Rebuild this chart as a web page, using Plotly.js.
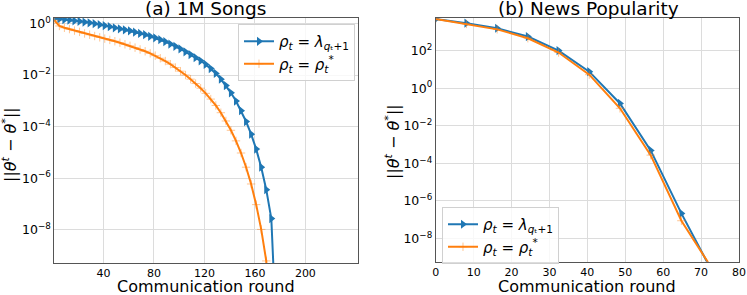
<!DOCTYPE html>
<html>
<head>
<meta charset="utf-8">
<script src="https://cdn.plot.ly/plotly-3.0.1.min.js"></script>
<style>html,body{margin:0;padding:0;background:#fff;}#chart{width:747px;height:295px;}</style>
</head>
<body>
<div id="chart"></div>
<script>
// ---- (a) 1M Songs ----
const songsRoundsBlue = [1,5,9,13,17,21,25,29,33,37,41,45,49,53,57,61,65,69,73,77,81,85,89,93,97,101,105,109,113,117,121,125,129,133,137,141,145,149,153,157,161,165,169,173,177];
const songsBlue = [1.55,1.48,1.41,1.35,1.26,1.20,1.12,1.05,0.977,0.891,0.813,0.741,0.676,0.617,0.562,0.513,0.457,0.407,0.363,0.316,0.275,0.234,0.195,0.158,0.129,0.102,0.0794,0.0617,0.0468,0.0355,0.0257,0.0178,0.0115,6.92e-3,3.89e-3,2.04e-3,9.77e-4,4.17e-4,1.58e-4,5.13e-5,1.35e-5,2.69e-6,3.63e-7,2.75e-8,1e-12];
const songsRoundsOrange = [1,5,9,13,17,21,25,29,33,37,41,45,49,53,57,61,65,69,73,77,81,85,89,93,97,101,105,109,113,117,121,125,129,133,137,141,145,149,153,157,161,165,169,173];
const songsOrange = [1.32,0.794,0.676,0.603,0.525,0.468,0.407,0.363,0.324,0.288,0.257,0.229,0.204,0.178,0.155,0.135,0.115,0.0977,0.0832,0.0692,0.0562,0.0447,0.0347,0.0263,0.0195,0.0141,0.0100,6.92e-3,4.68e-3,3.09e-3,1.95e-3,1.17e-3,6.61e-4,3.47e-4,1.66e-4,7.24e-5,2.82e-5,9.55e-6,2.69e-6,6.03e-7,9.55e-8,1.05e-8,6.31e-10,1e-13];

// ---- (b) News Popularity ----
const newsRounds = [0,8.1,16.2,24.3,32.4,40.5,48.6,56.7,64.8,72.9];
const newsBlue = [4790,2880,1550,562,100,7.59,0.155,4.90e-4,2.19e-7,1.78e-10];
const newsOrange = [4790,2630,1350,457,79.4,5.25,0.0851,2.75e-4,8.91e-8,2.51e-10];

// ---- labels ----
const titles = ['(a) 1M Songs', '(b) News Popularity'];
const xTitle = 'Communication round';
const yTitle = '||<i>θ</i><sup><i>t</i></sup> − <i>θ</i><sup>*</sup>||';
const nameBlue = '<i>ρ</i><sub><i>t</i></sub> = <i>λ</i><sub><i>q</i>ₜ+1</sub>';
const nameOrange = '<i>ρ</i><sub><i>t</i></sub> = <i>ρ</i><sub><i>t</i></sub><sup>*</sup>';
const songsXTicks = [40,80,120,160,200];
const newsXTicks = [0,10,20,30,40,50,60,70,80];
const songsYExp = [0,-2,-4,-6,-8];
const newsYExp = [2,0,-2,-4,-6,-8];

const BLUE = '#1f77b4', ORANGE = '#ff7f0e';
const FONT = 'DejaVu Sans, Liberation Sans, sans-serif';

function blueTrace(x, y, xa, ya, legendName) {
  return {x: x, y: y, xaxis: xa, yaxis: ya, type: 'scatter', mode: 'lines+markers', name: nameBlue,
    legend: legendName,
    line: {color: BLUE, width: 2},
    marker: {symbol: 'triangle-right', size: 8, color: BLUE}};
}
function orangeTrace(x, y, xa, ya, legendName) {
  return {x: x, y: y, xaxis: xa, yaxis: ya, type: 'scatter', mode: 'lines+markers', name: nameOrange,
    legend: legendName,
    line: {color: ORANGE, width: 2},
    marker: {symbol: 'cross-thin', size: 6, color: 'rgba(255,127,14,0.45)', line: {color: 'rgba(255,127,14,0.45)', width: 1}}};
}

const data = [
  blueTrace(songsRoundsBlue, songsBlue, 'x', 'y', 'legend'),
  orangeTrace(songsRoundsOrange, songsOrange, 'x', 'y', 'legend'),
  blueTrace(newsRounds, newsBlue, 'x2', 'y2', 'legend2'),
  orangeTrace(newsRounds, newsOrange, 'x2', 'y2', 'legend2')
];

function sup(e) { return '10<sup>' + (e < 0 ? '−' + (-e) : e) + '</sup>'; }

const axisCommon = {
  showline: true, linecolor: '#555', linewidth: 1, mirror: true,
  showgrid: true, gridcolor: '#dcdcdc', gridwidth: 1,
  zeroline: false, ticks: '', tickfont: {family: FONT, size: 11, color: '#000'}
};
const yTickFont = {family: FONT, size: 12.5, color: '#000'};

const legendCommon = {
  font: {family: FONT, size: 15, color: '#000'},
  bgcolor: 'rgba(255,255,255,0.8)', bordercolor: '#d0d0d0', borderwidth: 1,
  xanchor: 'left', yanchor: 'top', tracegroupgap: 0, itemwidth: 30
};

const layout = {
  width: 747, height: 295,
  margin: {l: 0, r: 0, t: 0, b: 0},
  paper_bgcolor: '#fff', plot_bgcolor: '#fff',
  showlegend: true,
  font: {family: FONT, color: '#000'},
  xaxis: Object.assign({}, axisCommon, {domain: [0.0727, 0.4789], range: [1, 241.5], tickvals: songsXTicks, ticktext: songsXTicks.map(String), anchor: 'y'}),
  yaxis: Object.assign({}, axisCommon, {domain: [0.1085, 0.94], type: 'log', range: [-9.28, 0.22], tickvals: songsYExp.map(e => Math.pow(10, e)), ticktext: songsYExp.map(sup), tickfont: yTickFont, anchor: 'x'}),
  xaxis2: Object.assign({}, axisCommon, {domain: [0.5833, 0.9893], range: [0, 80], tickvals: newsXTicks, ticktext: newsXTicks.map(String), anchor: 'y2'}),
  yaxis2: Object.assign({}, axisCommon, {domain: [0.1129, 0.938], type: 'log', range: [-9.23, 3.72], tickvals: newsYExp.map(e => Math.pow(10, e)), ticktext: newsYExp.map(sup), tickfont: yTickFont, anchor: 'x2'}),
  legend: Object.assign({}, legendCommon, {x: 0.3186, y: 0.9186}),
  legend2: Object.assign({}, legendCommon, {x: 0.5917, y: 0.2983}),
  annotations: [
    {text: titles[0], xref: 'paper', yref: 'paper', x: 205.5/747, y: 1 - 9/295, xanchor: 'center', yanchor: 'middle', showarrow: false, font: {family: FONT, size: 18.5, color: '#000'}},
    {text: titles[1], xref: 'paper', yref: 'paper', x: 588/747, y: 1 - 9/295, xanchor: 'center', yanchor: 'middle', showarrow: false, font: {family: FONT, size: 18.5, color: '#000'}},
    {text: xTitle, xref: 'paper', yref: 'paper', x: 206/747, y: 1 - 286/295, xanchor: 'center', yanchor: 'middle', showarrow: false, font: {family: FONT, size: 16, color: '#000'}},
    {text: xTitle, xref: 'paper', yref: 'paper', x: 587/747, y: 1 - 286/295, xanchor: 'center', yanchor: 'middle', showarrow: false, font: {family: FONT, size: 16, color: '#000'}},
    {text: yTitle, xref: 'paper', yref: 'paper', x: 9/747, y: 1 - 145/295, xanchor: 'center', yanchor: 'middle', textangle: -90, showarrow: false, font: {family: FONT, size: 16, color: '#000'}},
    {text: yTitle, xref: 'paper', yref: 'paper', x: 392/747, y: 1 - 142/295, xanchor: 'center', yanchor: 'middle', textangle: -90, showarrow: false, font: {family: FONT, size: 16, color: '#000'}}
  ]
};

Plotly.newPlot('chart', data, layout, {staticPlot: true, displayModeBar: false});
</script>
</body>
</html>
